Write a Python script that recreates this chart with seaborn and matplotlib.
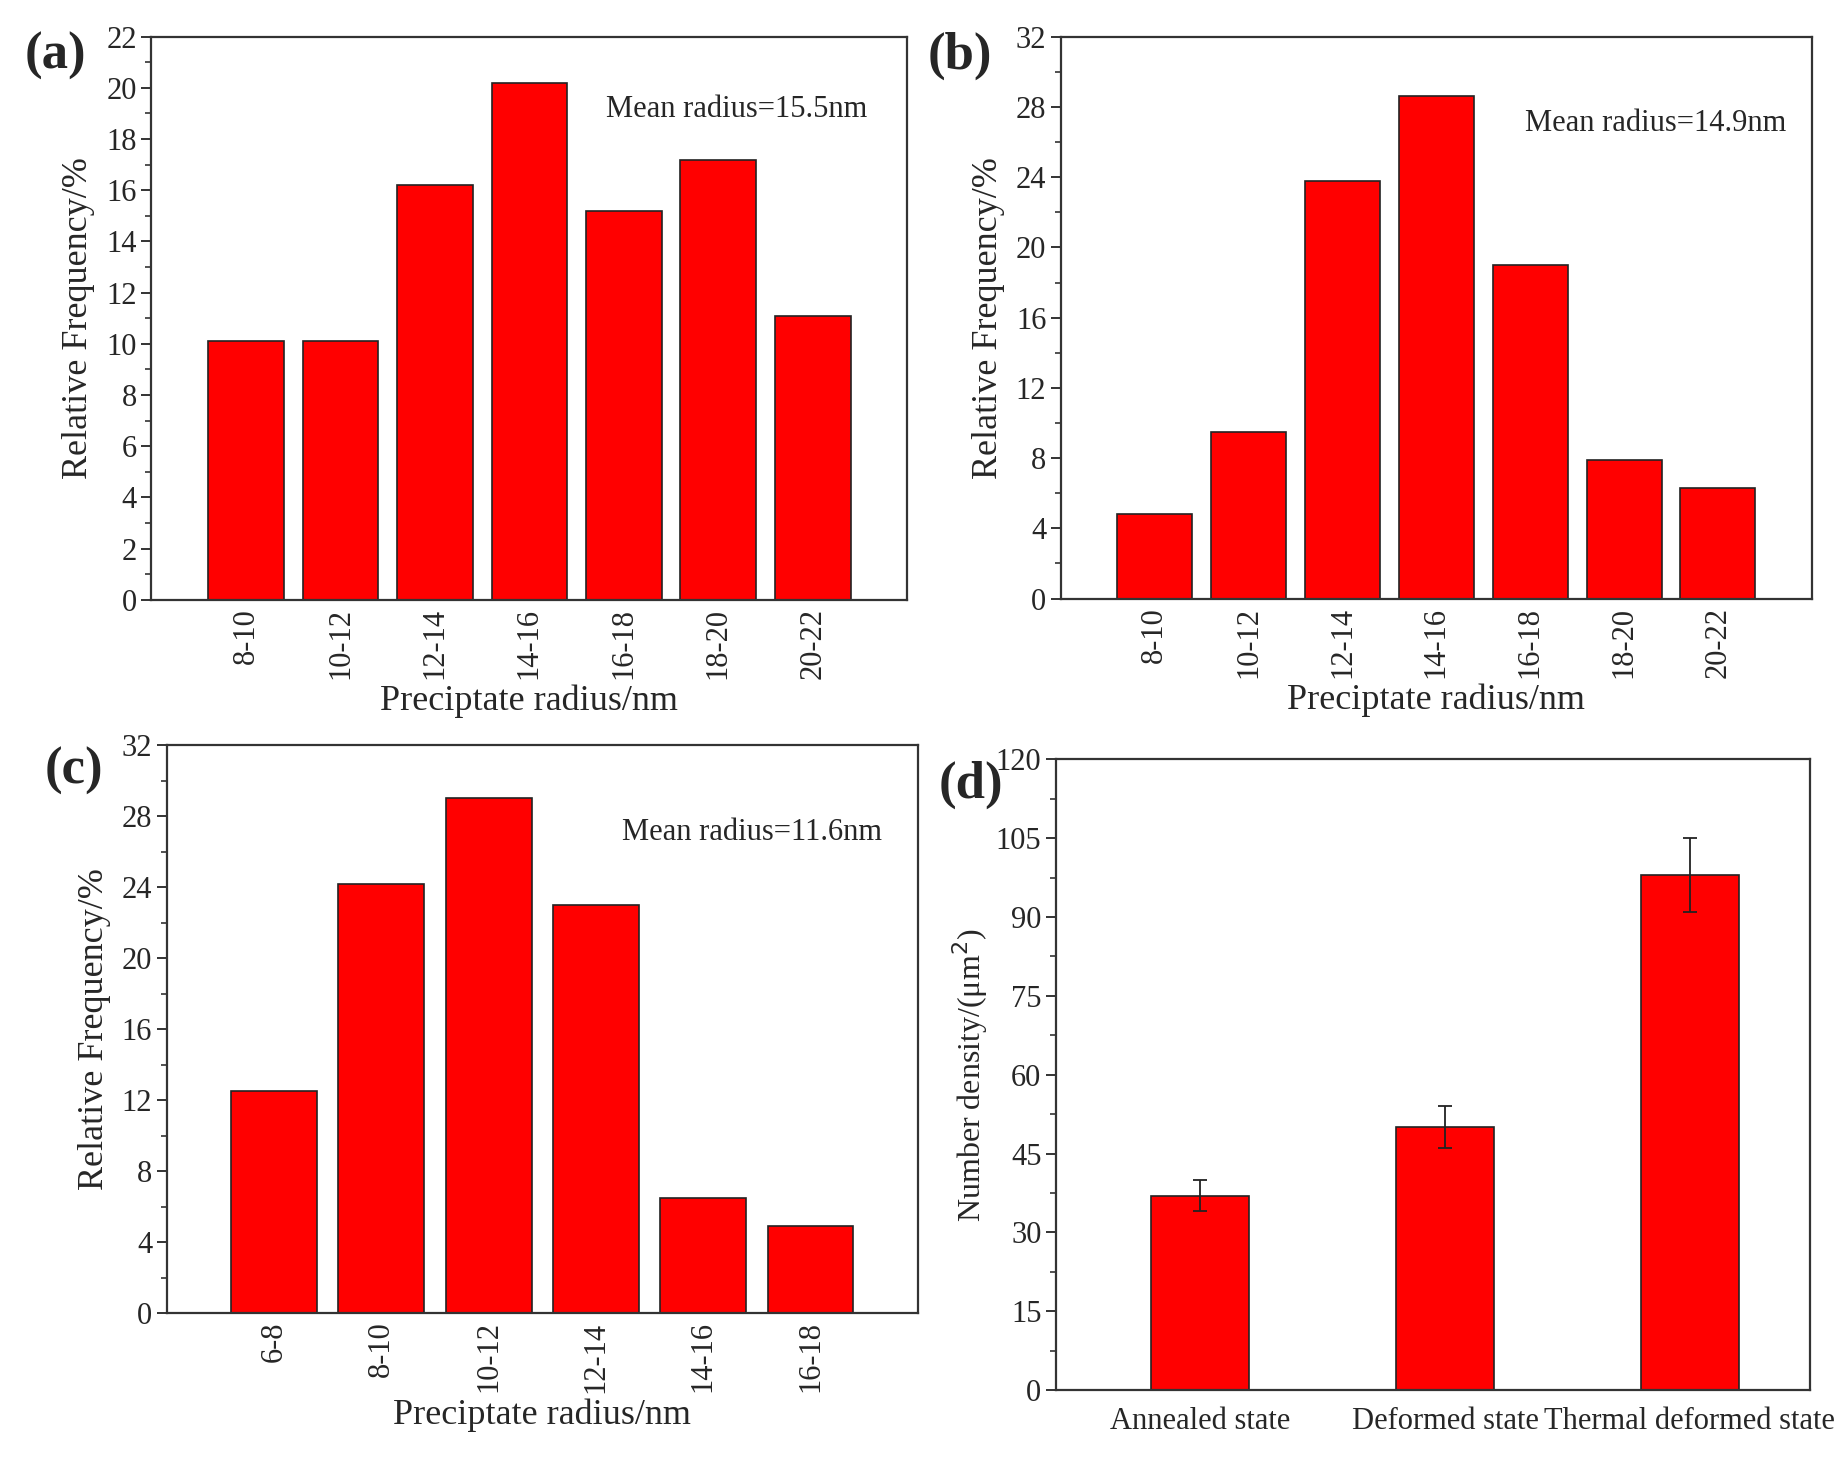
import matplotlib

matplotlib.use("Agg")
import matplotlib.pyplot as plt
import pandas as pd
import seaborn as sns

# -- Data ----------------------------------------------------------------------

radius_a = ["8-10", "10-12", "12-14", "14-16", "16-18", "18-20", "20-22"]
freq_a = [10.1, 10.1, 16.2, 20.2, 15.2, 17.2, 11.1]

radius_b = ["8-10", "10-12", "12-14", "14-16", "16-18", "18-20", "20-22"]
freq_b = [4.8, 9.5, 23.8, 28.6, 19.0, 7.9, 6.3]

radius_c = ["6-8", "8-10", "10-12", "12-14", "14-16", "16-18"]
freq_c = [12.5, 24.2, 29.0, 23.0, 6.5, 4.9]

states = ["Annealed state", "Deformed state", "Thermal deformed state"]
density = [37, 50, 98]
density_err = [3, 4, 7]

mean_labels = ["Mean radius=15.5nm", "Mean radius=14.9nm", "Mean radius=11.6nm"]

sns.set_style("ticks")
plt.rcParams["font.family"] = ["Liberation Serif", "DejaVu Serif"]
plt.rcParams["axes.edgecolor"] = "#333333"
plt.rcParams["axes.linewidth"] = 1.6

RED = "#ff0000"


def style_axes(ax, major, minor, ymax):
    ax.set_ylim(0, ymax)
    ax.set_yticks(range(0, ymax + 1, major))
    ax.set_yticks([v / 2 for v in range(0, 2 * ymax + 1, int(2 * minor))], minor=True)
    ax.tick_params(axis="y", which="major", direction="out", length=7, width=1.4,
                   labelsize=22, color="#333333")
    ax.tick_params(axis="y", which="minor", direction="out", length=4, width=1.2,
                   color="#333333")
    ax.tick_params(axis="x", which="both", length=0, labelsize=22, pad=6)
    for s in ax.spines.values():
        s.set_visible(True)


def hist_panel(ax, cats, vals, ymax, note, note_xy):
    df = pd.DataFrame({"radius": cats, "freq": vals})
    sns.barplot(data=df, x="radius", y="freq", ax=ax, color=RED, saturation=1,
                width=0.8, edgecolor="#222222", linewidth=1.2)
    ax.set_xlim(-1, len(cats))
    style_axes(ax, 4 if ymax > 22 else 2, 2 if ymax > 22 else 1, ymax)
    ax.tick_params(axis="x", labelrotation=90)
    ax.set_xlabel("Preciptate radius/nm", fontsize=26, labelpad=4)
    ax.set_ylabel("Relative Frequency/%", fontsize=26, labelpad=8)
    ax.text(note_xy[0], note_xy[1], note, transform=ax.transAxes, fontsize=22,
            va="center", ha="left")


fig = plt.figure(figsize=(18.45, 14.61), dpi=100)
ax_a = fig.add_axes([0.0821, 0.5895, 0.4096, 0.3854])
ax_b = fig.add_axes([0.5750, 0.5903, 0.4070, 0.3846])
ax_c = fig.add_axes([0.0904, 0.1012, 0.4070, 0.3887])
ax_d = fig.add_axes([0.5724, 0.0486, 0.4084, 0.4316])

hist_panel(ax_a, radius_a, freq_a, 22, mean_labels[0], (0.602, 0.870))
hist_panel(ax_b, radius_b, freq_b, 32, mean_labels[1], (0.618, 0.846))
hist_panel(ax_c, radius_c, freq_c, 32, mean_labels[2], (0.606, 0.846))

# -- Number density panel ------------------------------------------------------
df_d = pd.DataFrame({"state": states, "density": density})
sns.barplot(data=df_d, x="state", y="density", ax=ax_d, color=RED, saturation=1,
            width=0.4, edgecolor="#222222", linewidth=1.2)
ax_d.errorbar(range(len(states)), density, yerr=density_err, fmt="none",
              ecolor="#222222", elinewidth=1.3, capsize=5, capthick=1.3)
ax_d.set_xlim(-0.59, 2.49)
style_axes(ax_d, 15, 7.5, 120)
ax_d.tick_params(axis="x", pad=12)
ax_d.set_xlabel("")
ax_d.set_ylabel("Number density/(μm$^2$)", fontsize=23, labelpad=4)

for label, (x, y) in zip(["(a)", "(b)", "(c)", "(d)"],
                         [(0.030, 0.962), (0.5205, 0.962), (0.040, 0.472), (0.526, 0.463)]):
    fig.text(x, y, label, fontsize=38, fontweight="bold", ha="center", va="center")

fig.savefig("out.png", dpi=100)
